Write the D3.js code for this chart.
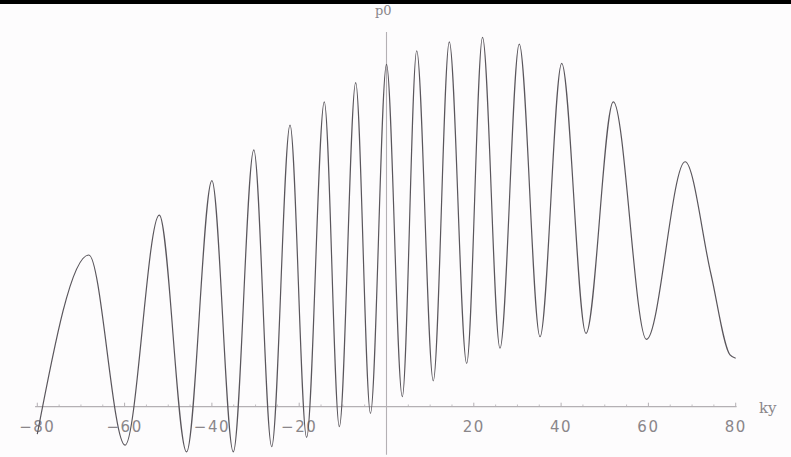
<!DOCTYPE html>
<html>
<head>
<meta charset="utf-8">
<script src="https://cdn.jsdelivr.net/npm/d3@7"></script>
<style>
  html, body { margin: 0; padding: 0; background: #fdfcfd; }
  svg { display: block; }
</style>
</head>
<body>
<svg id="chart" width="791" height="457"></svg>
<script>
// Turning points of the oscillation (ky, value), plus the points at both ends
const ky = [-80, -68.2, -59.9, -52.05, -45.8, -40.0, -35.1, -30.4, -26.3, -22.1,
            -18.3, -14.25, -10.8, -7.06, -3.67, 0, 3.62, 6.92, 10.72, 14.39,
            18.37, 22.0, 26.0, 30.42, 35.17, 40.14, 45.7, 51.96, 59.56, 68.4,
            74.3, 78.7, 80];
const value = [-0.074, 0.410, -0.104, 0.518, -0.122, 0.611, -0.122, 0.694, -0.108, 0.761,
               -0.083, 0.824, -0.054, 0.876, -0.018, 0.925, 0.027, 0.962, 0.070, 0.986,
               0.117, 0.998, 0.158, 0.980, 0.189, 0.928, 0.198, 0.824, 0.182, 0.662,
               0.360, 0.140, 0.131];

const majorTicks = [-80, -60, -40, -20, 20, 40, 60, 80];
const tickLabels = ["−80", "−60", "−40", "−20", "20", "40", "60", "80"];
const minorTicks = d3.range(-80, 81, 5).filter(d => d % 20 !== 0);
const xTitle = "ky";
const yTitle = "p0";

const svg = d3.select("#chart");
const W = 791, H = 457;

const x = d3.scaleLinear().domain([-80, 80]).range([37.3, 735.7]);
const y = d3.scaleLinear().domain([-0.13, 1.0]).range([454.8, 36.7]);

const axisColor = "#b4b0b4";
const textColor = "#8a868a";

// horizontal axis
svg.append("line")
  .attr("x1", x(-80.5)).attr("x2", x(80.2))
  .attr("y1", y(0)).attr("y2", y(0))
  .attr("stroke", axisColor).attr("stroke-width", 1.2);

// vertical axis
svg.append("line")
  .attr("x1", x(0)).attr("x2", x(0))
  .attr("y1", y(-0.13)).attr("y2", y(1.013))
  .attr("stroke", axisColor).attr("stroke-width", 1.1);

// ticks point up from the axis
svg.append("g").selectAll("line").data(majorTicks).join("line")
  .attr("x1", d => x(d)).attr("x2", d => x(d))
  .attr("y1", y(0)).attr("y2", y(0) - 4)
  .attr("stroke", axisColor).attr("stroke-width", 1);
svg.append("g").selectAll("line").data(minorTicks).join("line")
  .attr("x1", d => x(d)).attr("x2", d => x(d))
  .attr("y1", y(0)).attr("y2", y(0) - 2.2)
  .attr("stroke", axisColor).attr("stroke-width", 0.8);

// tick labels
svg.append("g").selectAll("text").data(majorTicks).join("text")
  .attr("x", d => x(d))
  .attr("y", y(0) + 25)
  .attr("text-anchor", "middle")
  .attr("font-family", "DejaVu Sans, sans-serif")
  .attr("font-size", 15)
  .attr("letter-spacing", 1.5)
  .attr("fill", textColor)
  .text((d, i) => tickLabels[i]);

// the oscillating curve
const line = d3.line()
  .x((d, i) => x(ky[i]))
  .y((d, i) => y(value[i]))
  .curve(d3.curveMonotoneX);

svg.append("path")
  .datum(ky)
  .attr("d", line)
  .attr("fill", "none")
  .attr("stroke", "#5a565c")
  .attr("stroke-width", 1.2)
  .attr("stroke-linejoin", "round");

// axis titles
svg.append("text")
  .attr("x", 759).attr("y", 413)
  .attr("font-family", "DejaVu Serif, serif")
  .attr("font-size", 15)
  .attr("fill", textColor)
  .text(xTitle);

// dark strip across the top edge
svg.append("rect")
  .attr("x", 0).attr("y", 0).attr("width", W).attr("height", 4)
  .attr("fill", "#000");

svg.append("text")
  .attr("x", 375).attr("y", 15)
  .attr("font-family", "DejaVu Serif, serif")
  .attr("font-size", 13)
  .attr("fill", textColor)
  .text(yTitle);
</script>
</body>
</html>
